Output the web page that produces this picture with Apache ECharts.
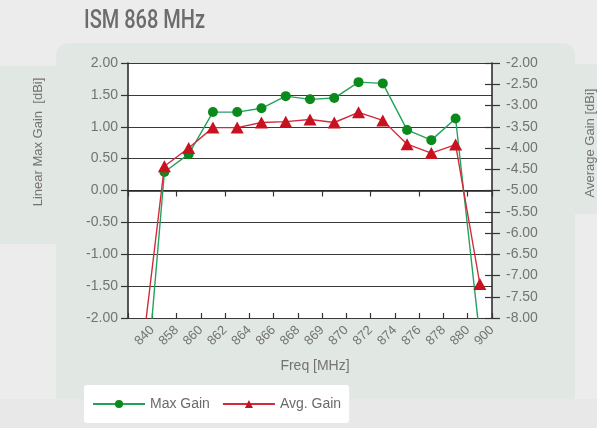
<!DOCTYPE html>
<html>
<head>
<meta charset="utf-8">
<script src="https://cdn.jsdelivr.net/npm/echarts@6/dist/echarts.min.js"></script>
<style>
html,body{margin:0;padding:0;background:#ececec;}
#c{width:597px;height:428px;}
</style>
</head>
<body>
<div id="c"></div>
<script>
const categories = ['840','858','860','862','864','866','868','869','870','872','874','876','878','880','900'];
const maxGain = [-4.2, 0.29, 0.57, 1.23, 1.23, 1.29, 1.48, 1.43, 1.45, 1.70, 1.68, 0.95, 0.79, 1.13, -2.3];
const avgGain = [-9.2, -4.43, -4.0, -3.52, -3.52, -3.40, -3.38, -3.33, -3.40, -3.16, -3.35, -3.91, -4.12, -3.92, -7.2];
const tickLabels = [''].concat(categories);
const leftAxis = {min: -2, max: 2, step: 0.5};
const rightAxis = {min: -8, max: -2, step: 0.5};

const panel = '#e1e7e3';
const labelColor = '#737373';
const fontFam = "'Liberation Sans', Arial, sans-serif";

const chart = echarts.init(document.getElementById('c'), null, {renderer: 'canvas'});
chart.setOption({
  backgroundColor: '#ececec',
  animation: false,
  graphic: [
    {type: 'rect', z: -10, shape: {x: 0, y: 399, width: 597, height: 29}, style: {fill: '#e8e8e8'}},
    {type: 'rect', z: -9, shape: {x: 0, y: 66, width: 70, height: 178, r: [0, 0, 8, 0]}, style: {fill: panel}},
    {type: 'rect', z: -9, shape: {x: 560, y: 64, width: 37, height: 150, r: 0}, style: {fill: panel}},
    {type: 'rect', z: -8, shape: {x: 56, y: 43, width: 519, height: 356, r: [12, 12, 0, 0]}, style: {fill: panel}},
    {type: 'text', x: 84, y: 22, scaleX: 0.8, style: {text: 'ISM 868 MHz', fill: '#6b6c6e', font: "500 25px Roboto, 'Liberation Sans', sans-serif", align: 'left', verticalAlign: 'middle'}},
    {type: 'text', x: 38, y: 142, rotation: Math.PI / 2, style: {text: 'Linear Max Gain  [dBi]', fill: labelColor, font: '13px ' + fontFam, align: 'center', verticalAlign: 'middle'}},
    {type: 'text', x: 590, y: 143, rotation: Math.PI / 2, style: {text: 'Average Gain [dBi]', fill: labelColor, font: '13px ' + fontFam, align: 'center', verticalAlign: 'middle'}},
    {type: 'text', x: 315, y: 366, style: {text: 'Freq [MHz]', fill: labelColor, font: '14px ' + fontFam, align: 'center', verticalAlign: 'middle'}}
  ],
  grid: {left: 128, right: 105, top: 63, bottom: 110, backgroundColor: '#ffffff', show: true, borderWidth: 0},
  legend: {
    left: 84, top: 385,
    backgroundColor: '#ffffff', borderRadius: 3,
    padding: [12, 8, 12, 8],
    itemWidth: 52, itemHeight: 10, itemGap: 12,
    textStyle: {fontSize: 14, color: '#6a6a6a', fontFamily: fontFam},
    data: ['Max Gain', 'Avg. Gain']
  },
  xAxis: [
    {
      type: 'category', data: categories, boundaryGap: true, position: 'bottom',
      axisLine: {show: true, lineStyle: {color: '#222', width: 1.5}},
      axisTick: {show: true, inside: false, length: 6, lineStyle: {color: '#333', width: 1.2}},
      axisLabel: {show: false},
      splitLine: {show: false}
    },
    {
      type: 'category', data: tickLabels, boundaryGap: false, position: 'bottom',
      axisLine: {show: false},
      axisTick: {show: true, inside: true, length: 5, lineStyle: {color: '#333', width: 1.2}},
      axisLabel: {show: true, rotate: 45, margin: 10, interval: 0, color: labelColor, fontSize: 13, fontFamily: fontFam},
      splitLine: {show: false}
    }
  ],
  yAxis: [
    {
      type: 'value', min: leftAxis.min, max: leftAxis.max, interval: leftAxis.step, position: 'left',
      axisLine: {show: true, lineStyle: {color: '#222', width: 1.5}},
      axisTick: {show: true, length: 7, lineStyle: {color: '#333', width: 1.2}},
      axisLabel: {formatter: v => v.toFixed(2), margin: 10, color: labelColor, fontSize: 14, fontFamily: fontFam},
      splitLine: {show: true, lineStyle: {color: '#3a3a3a', width: 1.2}}
    },
    {
      type: 'value', min: rightAxis.min, max: rightAxis.max, interval: rightAxis.step, position: 'right',
      axisLine: {show: true, lineStyle: {color: '#222', width: 1.5}},
      axisTick: {show: true, length: 8, lineStyle: {color: '#333', width: 1.2}},
      axisLabel: {formatter: v => v.toFixed(2), margin: 14, color: labelColor, fontSize: 14, fontFamily: fontFam},
      splitLine: {show: false}
    },
    {
      type: 'value', min: rightAxis.min, max: rightAxis.max, interval: rightAxis.step, position: 'right',
      axisLine: {show: false},
      axisTick: {show: true, inside: true, length: 7, lineStyle: {color: '#333', width: 1.2}},
      axisLabel: {show: false},
      splitLine: {show: false}
    }
  ],
  series: [
    {
      name: 'Max Gain', type: 'line', xAxisIndex: 0, yAxisIndex: 0, data: maxGain,
      symbol: 'circle', symbolSize: 10, clip: true,
      lineStyle: {color: '#26a05e', width: 1.4},
      itemStyle: {color: '#0b8a1c'},
      z: 3
    },
    {
      name: 'Avg. Gain', type: 'line', xAxisIndex: 0, yAxisIndex: 1, data: avgGain,
      symbol: 'triangle', symbolSize: [13, 12], clip: true,
      lineStyle: {color: '#d42a3c', width: 1.4},
      itemStyle: {color: '#c8121f'},
      z: 4
    }
  ]
});
</script>
</body>
</html>
